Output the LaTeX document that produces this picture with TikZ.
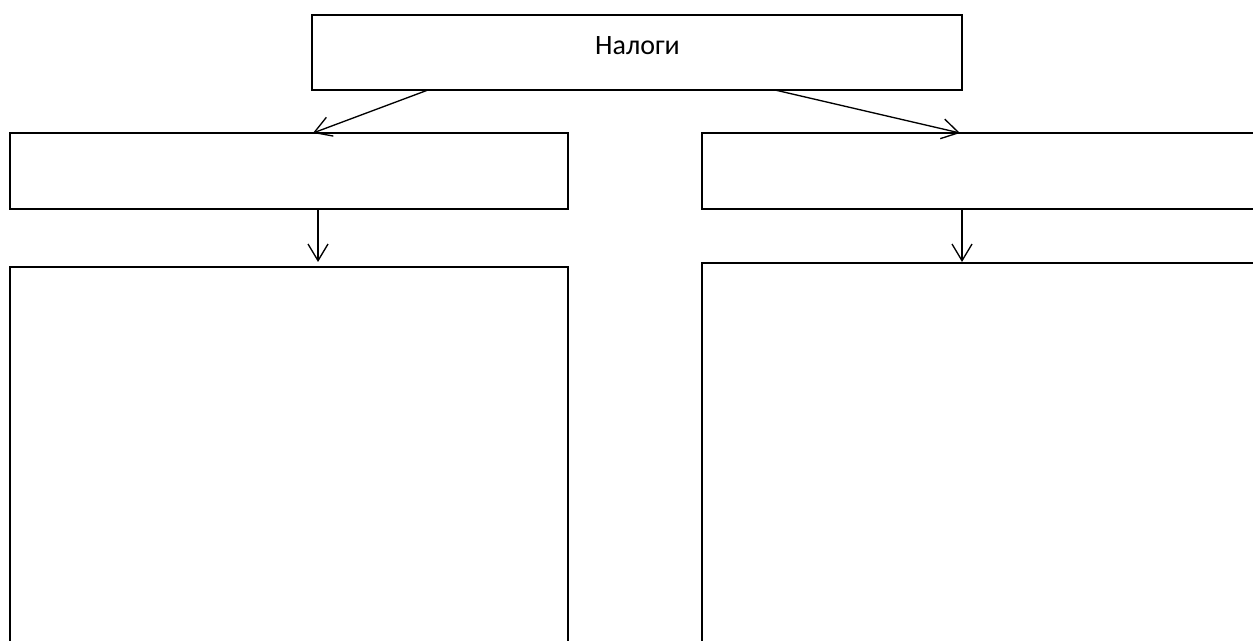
\documentclass[tikz,border=0pt]{standalone}
\usepackage{fontspec}
\setmainfont{Carlito}
\usetikzlibrary{arrows.meta,calc}
\begin{document}
\begin{tikzpicture}[x=0.75pt,y=-0.75pt,
  box/.style={draw,line width=1.5pt,inner sep=0pt,outer sep=0pt,rectangle},
  conn/.style={line width=1pt,-{Straight Barb[length=12.5pt,width=15pt]}}]
\useasboundingbox (0,0) rectangle (1253,641);
\clip (0,0) rectangle (1253,641);
\node[box,minimum width=650*0.75pt,minimum height=75*0.75pt] (top) at (637,52.5) {};
\node[anchor=base,font=\fontsize{21}{25}\selectfont] (lbl) at (637.5,54.5) {Налоги};
\node[box,minimum width=558*0.75pt,minimum height=76*0.75pt] (ml) at (289,171) {};
\node[box,minimum width=568*0.75pt,minimum height=76*0.75pt] (mr) at (986,171) {};
\node[box,minimum width=558*0.75pt,minimum height=393*0.75pt] (bl) at (289,463.5) {};
\node[box,minimum width=568*0.75pt,minimum height=397*0.75pt] (br) at (986,461.5) {};
\coordinate (a1) at (top.south -| 428,0);
\coordinate (b1) at (ml.north -| 313,0);
\coordinate (a2) at (top.south -| 775,0);
\coordinate (b2) at (mr.north -| 960,0);
\coordinate (a3) at (ml.south -| 318,0);
\coordinate (b3) at ($(bl.north -| 318,0)+(0,-5)$);
\coordinate (a4) at (mr.south -| 962,0);
\coordinate (b4) at ($(br.north -| 962,0)+(0,-1)$);
\draw[conn] (a1) -- (b1);
\draw[conn] (a2) -- (b2);
\draw[conn] (a3) -- (b3);
\draw[conn] (a4) -- (b4);
\end{tikzpicture}
\end{document}
